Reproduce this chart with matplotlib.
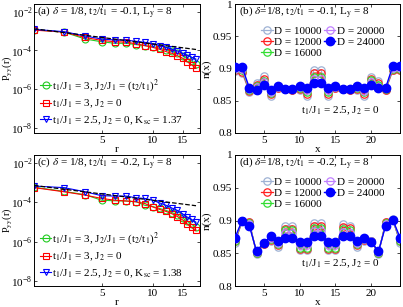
import matplotlib
matplotlib.use('Agg')
import matplotlib.pyplot as plt
import numpy as np
from matplotlib.ticker import FixedLocator, NullLocator, FormatStrFormatter, FixedFormatter

plt.rcParams['font.family'] = ['Liberation Serif', 'DejaVu Serif']
plt.rcParams['mathtext.fontset'] = 'stix'
plt.rcParams['font.size'] = 8

# ---- panels (a), (c): P_yy(r), values given as log10 ----
r = np.arange(2, 19)

a_green_log = [-2.93, -3.05, -3.41, -3.55, -3.63, -3.63, -3.70, -3.75, -3.80,
               -3.88, -3.97, -4.05, -4.15, -4.27, -4.40, -4.55, -4.70]
a_red_log = [-2.95, -3.05, -3.33, -3.48, -3.55, -3.57, -3.66, -3.75, -3.84,
             -3.94, -4.06, -4.15, -4.27, -4.40, -4.58, -4.75, -4.92]
a_blue_log = [-2.91, -3.03, -3.25, -3.41, -3.46, -3.47, -3.53, -3.58, -3.65,
              -3.75, -3.84, -3.94, -4.03, -4.15, -4.25, -4.35, -4.45]
a_fit_r = [2, 18]
a_fit_log = [-2.88, -3.95]

c_green_log = [-3.24, -3.45, -3.62, -3.90, -3.93, -3.94, -3.98, -4.16, -4.22,
               -4.32, -4.42, -4.53, -4.65, -4.80, -4.98, -5.13, -5.28]
c_red_log = [-3.26, -3.47, -3.64, -3.81, -3.90, -3.94, -3.98, -4.07, -4.24,
             -4.37, -4.47, -4.59, -4.73, -4.90, -5.11, -5.28, -5.42]
c_blue_log = [-3.18, -3.26, -3.47, -3.67, -3.69, -3.69, -3.78, -3.81, -3.90,
              -4.04, -4.16, -4.30, -4.42, -4.59, -4.76, -4.88, -5.02]
c_fit_r = [2, 18]
c_fit_log = [-3.15, -4.18]

pyy_yticks = [1e-8, 1e-6, 1e-4, 1e-2]
pyy_yticklabels = ['10$^{\\mathregular{-8}}$', '10$^{\\mathregular{-6}}$',
                   '10$^{\\mathregular{-4}}$', '10$^{\\mathregular{-2}}$']
pyy_labels = ['t$_1$/J$_1$ = 3, J$_2$/J$_1$ = (t$_2$/t$_1$)$^2$',
              't$_1$/J$_1$ = 3, J$_2$ = 0']
ksc_a = '1.37'
ksc_c = '1.38'

# ---- panels (b), (d): n(x) ----
x = np.arange(1, 25)
D_labels = ['D = 10000', 'D = 12000', 'D = 16000', 'D = 20000', 'D = 24000']

b_n = [
    [.896, .893, .864, .878, .888, .857, .869, .868, .867, .867, .858, .898,
     .898, .858, .869, .868, .867, .867, .857, .887, .880, .866, .897, .897],
    [.897, .895, .865, .875, .884, .860, .870, .868, .867, .868, .861, .893,
     .893, .861, .870, .868, .867, .868, .860, .884, .877, .867, .898, .898],
    [.899, .897, .867, .873, .881, .862, .871, .868, .868, .870, .864, .887,
     .887, .864, .871, .868, .868, .870, .863, .882, .874, .868, .900, .900],
    [.900, .899, .868, .871, .879, .864, .872, .868, .868, .871, .866, .883,
     .883, .866, .872, .868, .868, .871, .865, .879, .872, .869, .901, .901],
    [.902, .902, .870, .867, .875, .867, .873, .868, .868, .873, .869, .877,
     .877, .869, .873, .868, .868, .873, .869, .875, .869, .870, .904, .904],
]
d_n = [
    [.866, .899, .898, .849, .864, .869, .859, .892, .892, .855, .855, .896,
     .896, .855, .855, .894, .892, .859, .869, .868, .849, .898, .902, .866],
    [.868, .899, .897, .850, .864, .870, .862, .887, .887, .857, .857, .892,
     .892, .857, .857, .890, .888, .862, .870, .868, .850, .897, .901, .868],
    [.869, .900, .896, .851, .865, .872, .864, .885, .885, .858, .858, .889,
     .889, .858, .858, .887, .885, .864, .871, .868, .851, .896, .901, .869],
    [.871, .900, .894, .852, .866, .874, .866, .881, .881, .862, .862, .884,
     .884, .862, .862, .882, .881, .866, .872, .868, .852, .894, .901, .871],
    [.874, .900, .892, .853, .866, .876, .869, .874, .874, .867, .867, .877,
     .877, .867, .867, .876, .876, .869, .874, .867, .853, .892, .901, .874],
]
D_colors = ['#9fb2d4', '#ff2020', '#33dd33', '#c080ff', '#0000ff']

W, H = 403, 307
fig = plt.figure(figsize=(W / 100, H / 100), dpi=100)


def px_axes(left, top, right, bottom):
    return fig.add_axes([left / W, 1 - bottom / H, (right - left) / W, (bottom - top) / H])


def style(ax):
    ax.tick_params(direction='in', length=2.5, width=0.5, top=True, right=True,
                   labelsize=8, pad=2)
    for s in ax.spines.values():
        s.set_linewidth(0.7)


def pyy_panel(ax, g, rd, b, fit_r, fit_log, title, ksc):
    ax.plot(r, 10 ** np.array(g), '-o', color='#22cc22', mfc='none', ms=5, lw=0.8, mew=0.8,
            label=pyy_labels[0])
    ax.plot(r, 10 ** np.array(rd), '-s', color='#ff0000', mfc='none', ms=5, lw=0.8, mew=0.8,
            label=pyy_labels[1])
    ax.plot(r, 10 ** np.array(b), '-v', color='#0000ff', mfc='none', ms=5, lw=0.8, mew=0.8,
            label='t$_1$/J$_1$ = 2.5, J$_2$ = 0, K$_{\\mathrm{sc}}$ = ' + ksc)
    ax.plot(fit_r, 10 ** np.array(fit_log), '--', color='black', lw=0.9)
    ax.set_xscale('log')
    ax.set_yscale('log')
    ax.set_xlim(2, 19)
    ax.set_ylim(5.5e-9, 2.5e-2)
    ax.xaxis.set_major_locator(FixedLocator([5, 10, 15]))
    ax.xaxis.set_major_formatter(FormatStrFormatter('%d'))
    ax.xaxis.set_minor_locator(NullLocator())
    ax.yaxis.set_major_locator(FixedLocator(pyy_yticks))
    ax.yaxis.set_major_formatter(FixedFormatter(pyy_yticklabels))
    ax.yaxis.set_minor_locator(NullLocator())
    ax.set_xlabel('r', labelpad=0)
    ax.set_ylabel('P$_{\\mathrm{yy}}$(r)', fontsize=7.5)
    ax.yaxis.set_label_coords(-0.118, 0.5)
    ax.text(0.02, 0.94, title, transform=ax.transAxes, va='center', ha='left', fontsize=8)
    ax.legend(loc='lower left', bbox_to_anchor=(-0.01, -0.01), frameon=False, fontsize=8,
              handlelength=1.0, handletextpad=0.1, labelspacing=0.35, borderpad=0.2)
    style(ax)
    ax.tick_params(axis='y', pad=1)


def n_panel(ax, data, title):
    for i, (vals, lab) in enumerate(zip(data, D_labels)):
        if i == 4:
            ax.plot(x, vals, '-o', color=D_colors[i], ms=6, lw=1.0, label=lab, zorder=5)
        else:
            ax.plot(x, vals, '-o', color=D_colors[i], mfc='none', ms=5.3, lw=0.9, mew=0.9,
                    label=lab, zorder=2 + i * 0.1)
    ax.set_xlim(1, 24)
    ax.set_ylim(0.8, 1.0)
    ax.set_xticks([5, 10, 15, 20])
    ax.set_yticks([0.8, 0.85, 0.9, 0.95, 1.0])
    ax.yaxis.set_major_formatter(FormatStrFormatter('%g'))
    ax.set_xlabel('x', labelpad=0)
    ax.set_ylabel('n(x)', labelpad=1)
    ax.text(0.025, 0.94, title, transform=ax.transAxes, va='center', ha='left', fontsize=8)
    ax.text(0.64, 0.17, 't$_1$/J$_1$ = 2.5, J$_2$ = 0', transform=ax.transAxes,
            va='center', ha='center', fontsize=8)
    ax.legend(loc='upper left', bbox_to_anchor=(0.12, 0.88), ncol=2, frameon=False, fontsize=8,
              handlelength=1.0, handletextpad=0.15, labelspacing=0.1, columnspacing=0.2,
              borderpad=0.1)
    style(ax)


ax_a = px_axes(34, 4, 200, 133)
pyy_panel(ax_a, a_green_log, a_red_log, a_blue_log, a_fit_r, a_fit_log,
          r'(a) $\delta$ = 1/8, t$_2$/t$_1$ = -0.1, L$_\mathrm{y}$ = 8', ksc_a)

ax_c = px_axes(34, 155, 200, 286)
pyy_panel(ax_c, c_green_log, c_red_log, c_blue_log, c_fit_r, c_fit_log,
          r'(c) $\delta$ = 1/8, t$_2$/t$_1$ = -0.2, L$_\mathrm{y}$ = 8', ksc_c)

ax_b = px_axes(235, 4, 400, 133)
n_panel(ax_b, b_n, r'(b) $\delta$=1/8, t$_2$/t$_1$ = -0.1, L$_\mathrm{y}$ = 8')

ax_d = px_axes(235, 155, 400, 286)
n_panel(ax_d, d_n, r'(d) $\delta$=1/8, t$_2$/t$_1$ = -0.2, L$_\mathrm{y}$ = 8')

fig.savefig('out.png', dpi=100)
